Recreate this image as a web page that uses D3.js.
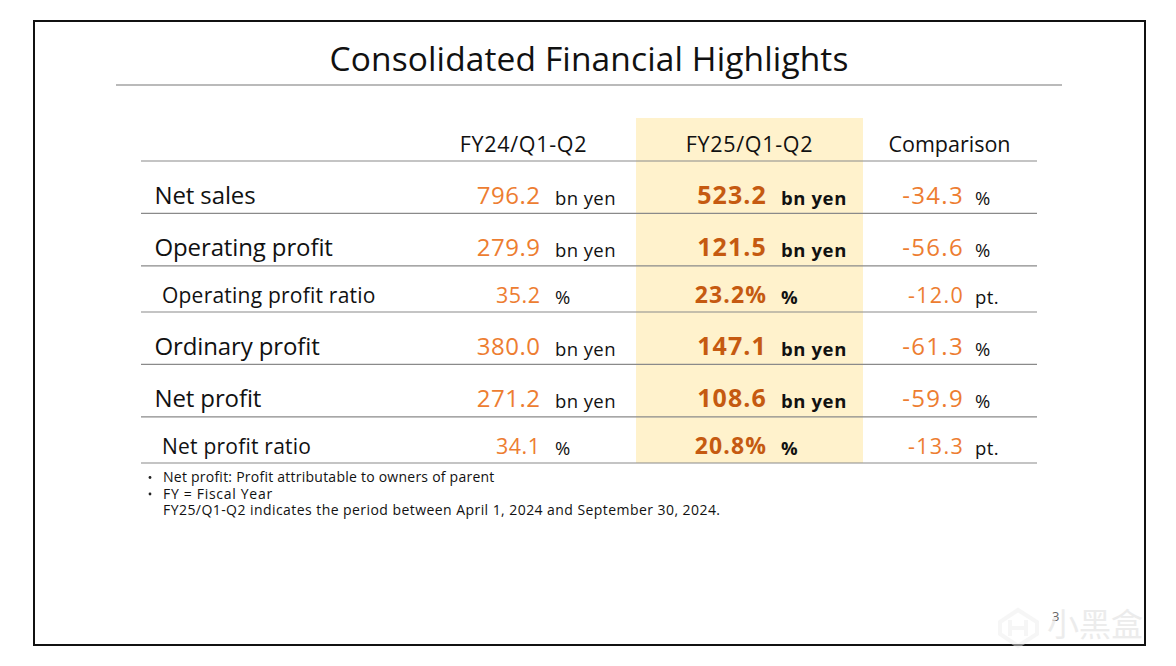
<!DOCTYPE html>
<html><head><meta charset="utf-8">
<script src="https://cdn.jsdelivr.net/npm/d3@7/dist/d3.min.js"></script>
<style>html,body{margin:0;padding:0;background:#fff}svg{display:block}text{font-family:"Open Sans",sans-serif;fill:#111}</style>
</head><body><div id="c"></div>
<script>
const titleText = "Consolidated Financial Highlights";
const columnHeaders = ["FY24/Q1-Q2", "FY25/Q1-Q2", "Comparison"];
const metrics = ["Net sales", "Operating profit", "Operating profit ratio", "Ordinary profit", "Net profit", "Net profit ratio"];
const isRatio = [false, false, true, false, false, true];
const fy24 = [796.2, 279.9, 35.2, 380.0, 271.2, 34.1];
const fy25 = [523.2, 121.5, 23.2, 147.1, 108.6, 20.8];
const comparison = [-34.3, -56.6, -12.0, -61.3, -59.9, -13.3];
const fyUnits = ["bn yen", "bn yen", "%", "bn yen", "bn yen", "%"];
const compUnits = ["%", "%", "pt.", "%", "%", "pt."];
const footnotes = ["Net profit: Profit attributable to owners of parent", "FY = Fiscal Year", "FY25/Q1-Q2 indicates the period between April 1, 2024 and September 30, 2024."];
const bulleted = [true, true, false];
const pageNumber = "3";

const W = 1176, H = 666;
const svg = d3.select("#c").append("svg").attr("width", W).attr("height", H);
const fmt = d3.formatLocale({decimal:".",thousands:",",grouping:[3],currency:["",""],minus:"-"}).format(".1f");

// slide frame
svg.append("rect").attr("x",34).attr("y",21).attr("width",1111).attr("height",624)
  .attr("fill","#fff").attr("stroke","#111").attr("stroke-width",2);

// title
svg.append("text").attr("x",589).attr("y",71).attr("text-anchor","middle")
  .style("font-size","33.5px").style("letter-spacing","0.12px").text(titleText);
svg.append("line").attr("x1",116).attr("x2",1062).attr("y1",85).attr("y2",85).attr("stroke","#777").attr("stroke-width",1.2);

// row scale: cumulative row heights, ratio rows being shorter
const rowWeight = i => isRatio[i] ? 46 : 52.4;
const cum = [0]; metrics.forEach((m,i)=>cum.push(cum[i]+rowWeight(i)));
const y = d3.scaleLinear().domain([0,cum[6]]).range([161,463]);

// column scales
const numX = d3.scaleOrdinal().domain(["a","b","c"]).range([540.5,767,964]);
const unitX = d3.scaleOrdinal().domain(["a","b","c"]).range([555,781,975]);

// highlight band
svg.append("rect").attr("x",636).attr("y",118).attr("width",227).attr("height",345).attr("fill","#fff2cc");

// header
const headX = d3.scaleOrdinal().domain(columnHeaders).range([523.5,749.5,949.5]);
svg.selectAll(".head").data(columnHeaders).join("text").attr("class","head")
  .attr("x",d=>headX(d)).attr("y",152).attr("text-anchor","middle")
  .style("font-size","21.5px").style("letter-spacing",(d,i)=>i<2?"0.7px":"0px").text(d=>d);

// rules
svg.selectAll(".rule").data(cum).join("line").attr("class","rule")
  .attr("x1",141).attr("x2",1037).attr("y1",d=>y(d)).attr("y2",d=>y(d))
  .attr("stroke","#8a8a8a").attr("stroke-width",1.2);

const rows = svg.selectAll(".row").data(metrics).join("g").attr("class","row")
  .attr("transform",(d,i)=>`translate(0,${y(cum[i+1])})`);

rows.append("text").attr("x",(d,i)=>isRatio[i]?162:154.5).attr("y",(d,i)=>isRatio[i]?-9:-9.5)
  .style("letter-spacing",(d,i)=>isRatio[i]?"0.22px":"-0.12px")
  .style("font-size",(d,i)=>isRatio[i]?"21px":"24px").text(d=>d);

function numCol(key, vals, color, weight, spacing, ratioSize, suffix){
  rows.append("text").attr("x",numX(key)).attr("y",(d,i)=>isRatio[i]?-9:-9.5)
    .attr("text-anchor","end").style("font-weight",weight)
    .style("letter-spacing",spacing).style("fill",color)
    .style("font-size",(d,i)=>isRatio[i]?ratioSize:(weight==="700"?"25px":"24px"))
    .text((d,i)=>fmt(vals[i])+(suffix?suffix(i):""));
}
function unitCol(key, units, weight){
  rows.append("text").attr("x",unitX(key)).attr("y",-8.5)
    .style("font-weight",weight).style("font-size","18.5px")
    .style("letter-spacing",weight==="700"?"0.6px":"0.4px").text((d,i)=>units[i]);
}
numCol("a",fy24,"#ed7d31","400","0.5px","21.5px");
unitCol("a",fyUnits,"400");
numCol("b",fy25,"#c55a11","700","1.1px","23px",i=>isRatio[i]?"%":"");
unitCol("b",fyUnits,"700");
numCol("c",comparison,"#ed7d31","400","1.3px","21.5px");
unitCol("c",compUnits,"400");

// footnotes
const noteY = d3.scalePoint().domain(footnotes).range([482,515]);
const noteSpacing = d3.scaleOrdinal().domain(footnotes).range(["0.24px","0.7px","0.44px"]);
svg.selectAll(".note").data(footnotes).join("text").attr("class","note")
  .attr("x",163).attr("y",d=>noteY(d)).style("font-size","14px").style("letter-spacing",d=>noteSpacing(d)).text(d=>d);
svg.selectAll(".bul").data(footnotes.filter((d,i)=>bulleted[i])).join("circle").attr("class","bul")
  .attr("cx",150).attr("cy",d=>noteY(d)-4.5).attr("r",1.4).attr("fill","#222");

// page number and watermark
svg.append("text").attr("x",1052).attr("y",621).style("font-size","13px").style("fill","#666").text(pageNumber);
svg.append("text").attr("x",1047).attr("y",636).style("font-family","'Noto Sans CJK SC',sans-serif")
  .style("font-size","32px").style("fill","#e4e4e4").style("opacity",0.7).text("小黑盒");
svg.append("path").attr("d","M1000 622 L1018 610 L1037 622 L1037 634 L1018 646 L1000 634 Z M1010 620 L1010 636 M1026 620 L1026 636 M1010 628 L1026 628")
  .attr("fill","none").attr("stroke","#eeeeee").attr("stroke-width",4).attr("opacity",0.5);
</script></body></html>
